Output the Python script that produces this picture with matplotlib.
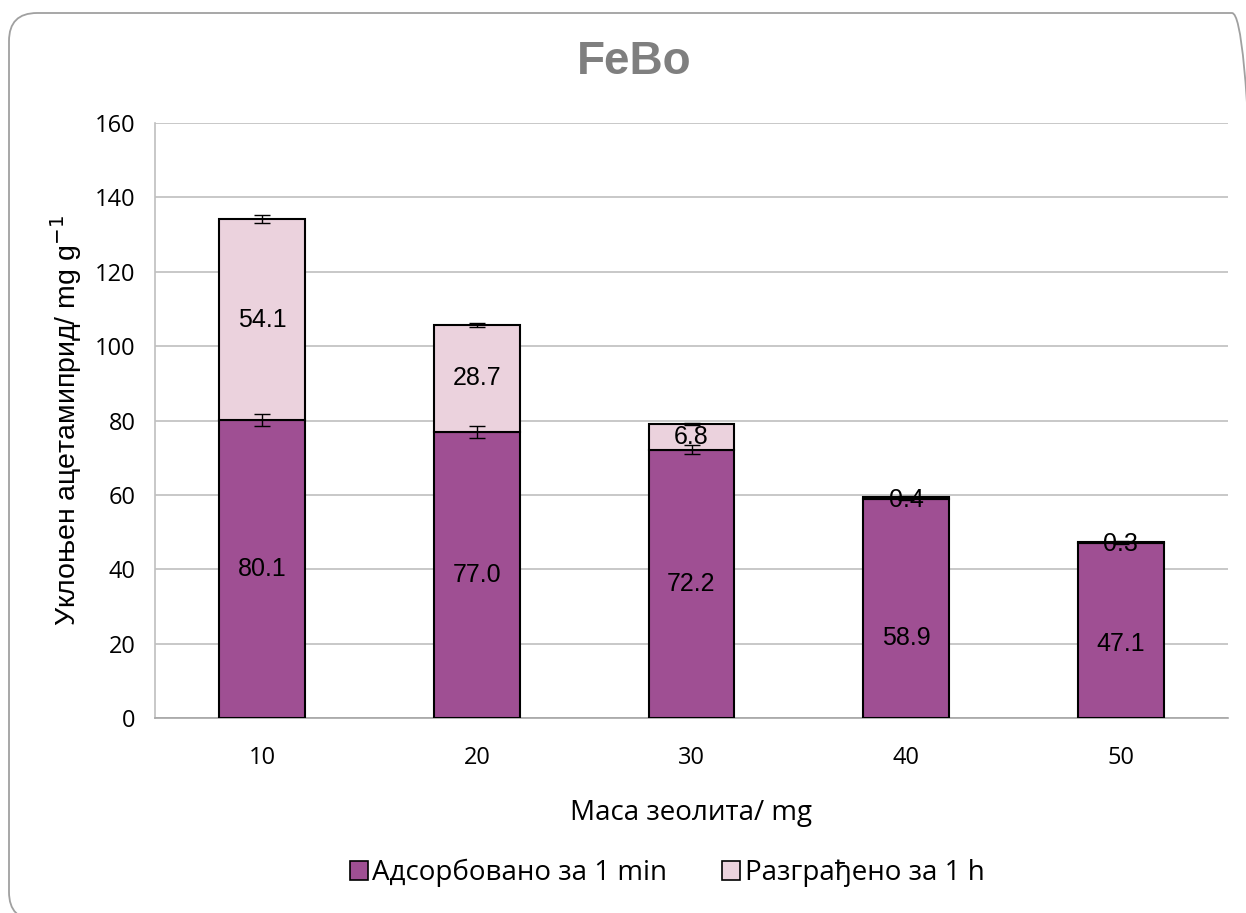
import numpy as np
import matplotlib
matplotlib.use("Agg")
import matplotlib.pyplot as plt
import matplotlib.patches as mpatches

# Zeolite mass and removed acetamiprid (stacked: adsorbed + degraded)
masses = ["10", "20", "30", "40", "50"]
adsorbed = [80.1, 77.0, 72.2, 58.9, 47.1]
degraded = [54.1, 28.7, 6.8, 0.4, 0.3]
adsorbed_err = [1.7, 1.6, 1.2, 0.3, 0.2]
total_err = [1.0, 0.5, 0.3, 0.3, 0.2]

dark = "#9F4F93"
light = "#EBD2DD"
sans_arial = ["Liberation Sans", "DejaVu Sans"]
sans_cal = ["Open Sans", "DejaVu Sans"]

fig = plt.figure(figsize=(12.46, 9.13), dpi=100)
ax = fig.add_axes([155/1246, 1 - 718/913, (1228 - 155)/1246, (718 - 123)/913])

x = np.arange(len(masses))
total = np.array(adsorbed) + np.array(degraded)
w = 0.4

ax.bar(x, adsorbed, w, color=dark, edgecolor="black", linewidth=1.5, zorder=3,
       label="Адсорбовано за 1 min")
ax.bar(x, degraded, w, bottom=adsorbed, color=light, edgecolor="black",
       linewidth=1.5, zorder=3, label="Разграђено за 1 h")
ax.errorbar(x, adsorbed, yerr=adsorbed_err, fmt="none", ecolor="black",
            elinewidth=1, capsize=6, capthick=1, zorder=4)
ax.errorbar(x, total, yerr=total_err, fmt="none", ecolor="black",
            elinewidth=1, capsize=6, capthick=1, zorder=4)

# value labels inside the segments
low_pos = [0.5, 0.5, 0.5, 0.365, 0.42]
for i in range(len(x)):
    ax.text(x[i], adsorbed[i] * low_pos[i], f"{adsorbed[i]:.1f}", ha="center",
            va="center", fontsize=18, family=sans_arial, zorder=5)
    if degraded[i] > 2:
        yy = adsorbed[i] + degraded[i] / 2
    else:
        yy = total[i] - 0.6
    ax.text(x[i], yy, f"{degraded[i]:.1f}", ha="center", va="center",
            fontsize=18, family=sans_arial, zorder=5)

ax.set_xlim(-0.5, len(x) - 0.5)
ax.set_ylim(0, 160)
ax.set_yticks(np.arange(0, 161, 20))
ax.set_xticks(x)
ax.set_xticklabels(masses)
ax.tick_params(length=0, labelsize=17, pad=14)
ax.tick_params(axis="x", pad=20)
for lab in ax.get_xticklabels() + ax.get_yticklabels():
    lab.set_family(sans_cal)

ax.grid(axis="y", color="#BFBFBF", linewidth=1.2, zorder=0)
for s in ["top", "right"]:
    ax.spines[s].set_visible(False)
ax.spines["left"].set_color("#BFBFBF")
ax.spines["bottom"].set_color("#A6A6A6")
ax.spines["left"].set_linewidth(1.2)
ax.spines["bottom"].set_linewidth(1.2)

ax.set_ylabel("Уклоњен ацетамиприд/ mg g$^{-1}$", fontsize=20.5,
              family=sans_arial, labelpad=8)
ax.set_xlabel("Маса зеолита/ mg", fontsize=20, family=sans_cal, labelpad=21)

fig.text(634/1246, 1 - 62/913, "FeBo", ha="center", va="center", fontsize=33,
         fontweight="bold", color="#7F7F7F", family=sans_arial)

leg = fig.legend(loc="center", bbox_to_anchor=(667/1246, 1 - 873/913), ncol=2,
                 frameon=False, prop={"family": sans_cal, "size": 20},
                 handlelength=0.65, handleheight=0.65, handletextpad=0.15,
                 columnspacing=2.0)
for h in leg.legend_handles:
    h.set_linewidth(1.2)

# rounded frame around the whole chart
frame = mpatches.FancyBboxPatch((9, -7), 1251, 907,
                                boxstyle="round,pad=0,rounding_size=28",
                                transform=None, facecolor="none",
                                edgecolor="#A0A0A0", linewidth=1.3)
fig.add_artist(frame)

fig.savefig("out.png", dpi=100)
